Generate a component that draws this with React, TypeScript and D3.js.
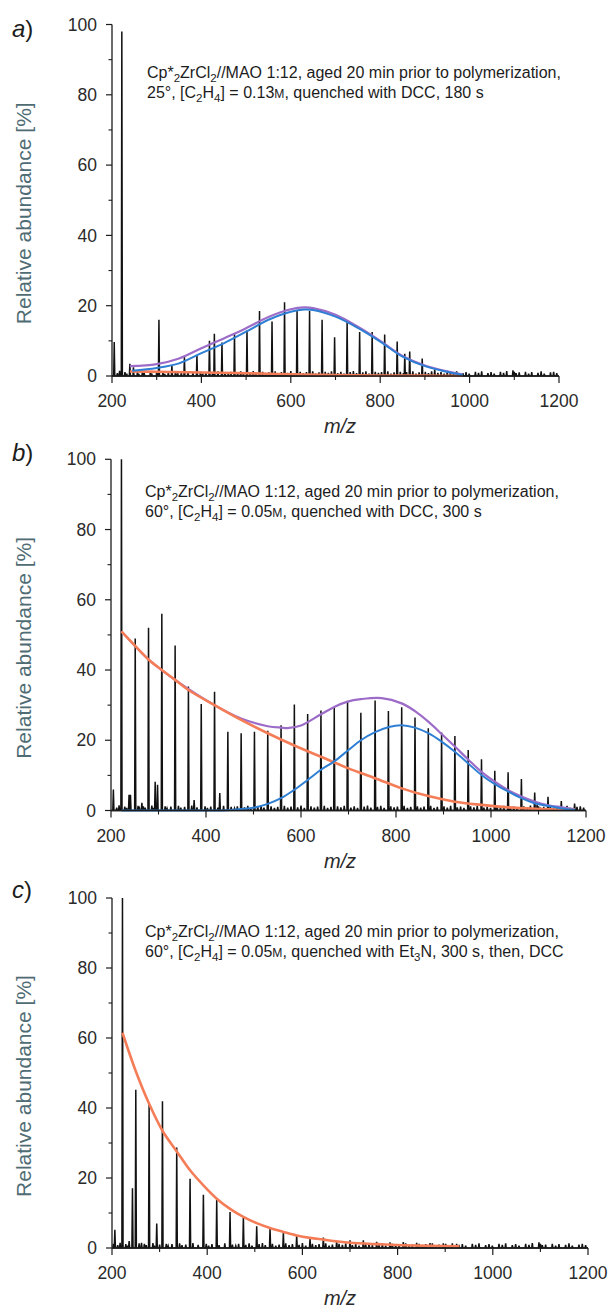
import React from 'react';
import * as d3 from 'd3';

type Pt = [number, number];
type Seg = [string, 'n' | 'sub' | 'sc'];

const xTickValues = [200, 400, 600, 800, 1000, 1200];
const xMinorTicks = [300, 500, 700, 900, 1100];
const yTickValues = [0, 20, 40, 60, 80, 100];
const yMinorTicks = [10, 30, 50, 70, 90];

// panel a peaks [m/z, relative abundance]
const peaksA: Pt[] = [
  [205, 9.7], [222, 98], [240, 3.5], [248, 2.5], [305, 16], [334, 3], [362, 5.5], [390, 6],
  [418, 10], [429, 12], [446, 9.5], [474, 12], [502, 13], [530, 18.5], [558, 15.5], [586, 21],
  [614, 18.5], [642, 18.5], [670, 16], [698, 11], [726, 15.5], [754, 12.5], [782, 12.5],
  [810, 11.8], [838, 9.8], [855, 6.3], [866, 7], [894, 5], [922, 1.8], [950, 1.2],
];
const peaksB: Pt[] = [
  [205, 6], [222, 100], [238, 4.5], [241, 4.5], [251, 49], [265, 2.2], [279, 52], [293, 8.2],
  [298, 7.3], [307, 56], [335, 47], [363, 35.3], [375, 3], [390, 30.3], [418, 33.8], [429, 5],
  [446, 22.4], [474, 22], [502, 22.4], [530, 22.7], [558, 24.3], [586, 30.2], [614, 27.5],
  [642, 28.5], [670, 29.2], [698, 31.2], [726, 27.8], [756, 31.3], [784, 28.3], [812, 29.4],
  [840, 26.5], [868, 23.4], [896, 22.2], [924, 21.2], [952, 17.2], [980, 14.6], [1008, 11.3],
  [1036, 10.9], [1064, 9], [1092, 5.1], [1120, 3.9], [1148, 2.7], [1176, 2],
];
const peaksC: Pt[] = [
  [206, 5.2], [222, 100], [236, 2], [243, 17.1], [250, 45.2], [262, 1.5], [278, 41.2], [294, 7],
  [306, 41.9], [336, 28.7], [364, 19.8], [392, 15.2], [420, 13.8], [448, 10.3], [476, 9],
  [504, 6.2], [532, 5.7], [560, 4.5], [588, 3.7], [616, 2.6], [644, 3], [672, 2], [700, 2.2],
  [728, 2.2], [756, 1.8], [784, 1.6], [812, 1.7], [840, 1.5], [868, 1.4], [896, 1.3], [924, 1.2],
];

// low-level baseline signal
const baselineNoise: Pt[] = [
  [203, 1.2], [212, 0.8], [217, 1.5], [229, 1.1], [233, 0.7], [257, 1.3], [260, 0.6], [268, 1.2],
  [272, 0.8], [286, 1.4], [289, 0.7], [300, 1.0], [314, 1.2], [318, 0.6], [326, 1.1], [342, 1.3],
  [347, 0.8], [355, 1.0], [370, 1.4], [381, 0.9], [398, 1.2], [403, 0.7], [410, 1.1], [425, 0.8],
  [437, 1.3], [453, 1.0], [460, 0.6], [466, 1.2], [481, 0.9], [488, 1.3], [494, 0.7], [509, 1.1],
  [516, 1.4], [522, 0.8], [537, 1.2], [544, 0.7], [551, 1.0], [565, 1.3], [572, 0.8], [579, 1.1],
  [593, 0.9], [600, 1.4], [607, 0.7], [621, 1.2], [628, 0.8], [635, 1.1], [649, 1.3], [656, 0.7],
  [663, 1.0], [677, 1.2], [684, 0.9], [691, 1.3], [705, 0.8], [712, 1.2], [719, 0.7], [733, 1.1],
  [740, 1.4], [747, 0.8], [761, 1.0], [768, 1.3], [775, 0.7], [789, 1.2], [796, 0.9], [803, 1.1],
  [817, 1.3], [824, 0.7], [831, 1.0], [845, 1.2], [852, 0.8], [859, 1.1], [873, 1.3], [880, 0.7],
  [887, 1.0], [901, 1.2], [908, 0.8], [915, 1.3], [929, 0.9], [936, 1.1], [943, 0.7], [957, 1.2],
  [964, 0.9], [971, 1.3], [985, 0.8], [992, 1.1], [999, 0.7], [1013, 1.2], [1020, 0.9], [1027, 1.3],
  [1041, 0.8], [1048, 1.1], [1055, 0.7], [1069, 1.2], [1076, 0.9], [1083, 1.4], [1097, 1.6],
  [1100, 1.2], [1104, 0.8], [1111, 1.0], [1125, 1.2], [1132, 0.7], [1139, 1.1], [1153, 0.9],
  [1160, 1.3], [1167, 0.7], [1181, 1.0], [1188, 1.2], [1195, 0.8],
];

// fitted distributions
const sumA: Pt[] = [
  [240, 2.8], [300, 3.4], [350, 5], [400, 7.9], [450, 10.7], [500, 13.6], [550, 16.8], [600, 19],
  [630, 19.5], [650, 19.3], [700, 17.4], [750, 14], [800, 10], [850, 5.7], [900, 3], [950, 1.3], [985, 0.4],
];
const highA: Pt[] = [
  [245, 1.5], [300, 2.3], [350, 3.6], [400, 6.5], [450, 9.3], [500, 12.6], [550, 16], [600, 18.3],
  [630, 18.9], [650, 18.8], [700, 16.9], [750, 13.7], [800, 9.8], [850, 5.5], [900, 2.8], [950, 1.2], [985, 0.3],
];
const lowA: Pt[] = [
  [240, 1.3], [300, 1.2], [400, 1], [500, 0.8], [600, 0.5], [700, 0.3], [800, 0.15], [900, 0.1], [985, 0.05],
];

const sumB: Pt[] = [
  [222, 51], [279, 43], [335, 37.2], [418, 30], [474, 26.2], [530, 24], [558, 23.6], [575, 23.5],
  [600, 24.2], [642, 27.4], [670, 29.5], [698, 31], [726, 31.7], [770, 32], [812, 30.5], [840, 28.3],
  [868, 25.3], [896, 21.8], [924, 18.2], [952, 14.5], [980, 11], [1008, 8.2], [1036, 5.8], [1064, 4],
  [1093, 2.5], [1121, 1.5], [1149, 0.9], [1177, 0.3],
];
const highB: Pt[] = [
  [222, 0], [400, 0], [446, 0.1], [474, 0.4], [502, 0.85], [530, 1.9], [558, 3.5], [586, 5.9],
  [614, 8.7], [642, 11.6], [670, 14], [698, 17], [726, 20], [756, 22.3], [785, 23.8], [812, 24.3],
  [840, 23.6], [868, 22], [896, 19.6], [924, 16.7], [952, 13.4], [980, 10.1], [1008, 7.5], [1036, 5.4],
  [1064, 3.5], [1093, 2], [1121, 1.3], [1149, 0.6], [1177, 0.2],
];
const lowB: Pt[] = [
  [222, 51], [250, 47], [279, 43], [307, 40], [335, 37.2], [363, 34.3], [418, 30], [474, 25.8],
  [530, 22], [586, 18.5], [642, 15.3], [700, 12], [756, 9.2], [812, 6.3], [868, 4.1], [924, 2.5],
  [980, 1.6], [1036, 0.9], [1093, 0.5], [1177, 0.2],
];

const lowC: Pt[] = [
  [222, 61.5], [250, 50.5], [278, 41.2], [306, 33.5], [336, 27.6], [364, 22.2], [392, 17.9],
  [420, 14.1], [448, 11.2], [476, 8.9], [504, 7.1], [532, 5.7], [560, 4.6], [588, 3.6], [616, 2.9],
  [644, 2.4], [672, 1.9], [700, 1.5], [756, 1.1], [812, 0.8], [870, 0.6], [930, 0.5],
];

const line1: Seg[] = [['Cp*', 'n'], ['2', 'sub'], ['ZrCl', 'n'], ['2', 'sub'], ['//MAO 1:12, aged 20 min prior to polymerization,', 'n']];
const line2A: Seg[] = [['25°, [C', 'n'], ['2', 'sub'], ['H', 'n'], ['4', 'sub'], ['] = 0.13', 'n'], ['M', 'sc'], [', quenched with DCC, 180 s', 'n']];
const line2B: Seg[] = [['60°, [C', 'n'], ['2', 'sub'], ['H', 'n'], ['4', 'sub'], ['] = 0.05', 'n'], ['M', 'sc'], [', quenched with DCC, 300 s', 'n']];
const line2C: Seg[] = [['60°, [C', 'n'], ['2', 'sub'], ['H', 'n'], ['4', 'sub'], ['] = 0.05', 'n'], ['M', 'sc'], [', quenched with Et', 'n'], ['3', 'sub'], ['N, 300 s, then, DCC', 'n']];

const COLORS = { sum: '#9d6cc8', high: '#2e7fd4', low: '#f47d58', ink: '#1c1c1c', ylab: '#4f6c74' };
const FONT = '"Liberation Sans", Arial, Helvetica, sans-serif';

interface PanelCfg {
  letter: string;
  peaks: Pt[];
  sum?: Pt[];
  high?: Pt[];
  low: Pt[];
  l2: Seg[];
  x0: number; x1: number; yTop: number; yBot: number;
  textX: number; textY: number; letterY: number;
}

const panels: PanelCfg[] = [
  { letter: 'a', peaks: peaksA, sum: sumA, high: highA, low: lowA, l2: line2A, x0: 112, x1: 559, yTop: 24.5, yBot: 376, textX: 147, textY: 78, letterY: 37 },
  { letter: 'b', peaks: peaksB, sum: sumB, high: highB, low: lowB, l2: line2B, x0: 111, x1: 586, yTop: 459.3, yBot: 810.5, textX: 145, textY: 497, letterY: 461 },
  { letter: 'c', peaks: peaksC, low: lowC, l2: line2C, x0: 112, x1: 588, yTop: 898, yBot: 1248, textX: 145, textY: 937, letterY: 898 },
];

function spectrumPoints(peaks: Pt[], noise: Pt[]): Pt[] {
  const all: Pt[] = [...peaks];
  noise.forEach((n) => {
    if (!peaks.some((p) => Math.abs(p[0] - n[0]) < 3)) all.push(n);
  });
  all.sort((a, b) => a[0] - b[0]);
  const pts: Pt[] = [[200, 0]];
  all.forEach(([m, h]) => {
    pts.push([m - 1.2, 0], [m, h], [m + 1.2, 0]);
  });
  pts.push([1200, 0]);
  return pts;
}

function RichText({ segs, x, y, size }: { segs: Seg[]; x: number; y: number; size: number }) {
  let shifted = 0;
  const sub = size * 0.28;
  const parts = segs.map((s, i) => {
    let dy = 0;
    let fs = size;
    if (s[1] === 'sub') {
      dy = sub - shifted;
      shifted = sub;
      fs = size * 0.72;
    } else {
      dy = -shifted;
      shifted = 0;
      if (s[1] === 'sc') fs = size * 0.76;
    }
    return (
      <tspan key={i} dy={dy} fontSize={fs}>
        {s[0]}
      </tspan>
    );
  });
  return (
    <text x={x} y={y} fontFamily={FONT} fontSize={size} fill={COLORS.ink}>
      {parts}
    </text>
  );
}

function Panel({ cfg }: { cfg: PanelCfg }) {
  const x = d3.scaleLinear().domain([200, 1200]).range([cfg.x0, cfg.x1]);
  const y = d3.scaleLinear().domain([0, 100]).range([cfg.yBot, cfg.yTop]);
  const specLine = d3.line<Pt>().x((d) => x(d[0])).y((d) => y(d[1]));
  const fitLine = d3
    .line<Pt>()
    .x((d) => x(d[0]))
    .y((d) => y(d[1]))
    .curve(d3.curveCatmullRom.alpha(0.5));
  const spec = spectrumPoints(cfg.peaks, baselineNoise);
  const x0 = x(200);
  const y0 = y(0);
  const midY = (cfg.yTop + cfg.yBot) / 2 + 13;
  const midX = 340;
  return (
    <g>
      <text x={12} y={cfg.letterY} fontFamily={FONT} fontSize={24} fill={COLORS.ink}>
        <tspan fontStyle="italic">{cfg.letter}</tspan>
        <tspan>)</tspan>
      </text>
      <text
        transform={`translate(31,${midY}) rotate(-90)`}
        textAnchor="middle"
        fontFamily={FONT}
        fontSize={21}
        fill={COLORS.ylab}
      >
        Relative abundance [%]
      </text>
      <RichText segs={line1} x={cfg.textX} y={cfg.textY} size={16} />
      <RichText segs={cfg.l2} x={cfg.textX} y={cfg.textY + 19.5} size={16} />

      {/* spectrum */}
      <path d={specLine(spec) || ''} fill="none" stroke="#111" strokeWidth={1.5} strokeLinejoin="miter" />

      {/* fits */}
      {cfg.sum && <path d={fitLine(cfg.sum) || ''} fill="none" stroke={COLORS.sum} strokeWidth={2.2} />}
      <path d={fitLine(cfg.low) || ''} fill="none" stroke={COLORS.low} strokeWidth={2.6} />
      {cfg.high && <path d={fitLine(cfg.high) || ''} fill="none" stroke={COLORS.high} strokeWidth={2} />}

      {/* axes */}
      <line x1={x0} x2={x0} y1={y(100)} y2={y0} stroke={COLORS.ink} strokeWidth={1.3} />
      <line x1={x0} x2={x(1200)} y1={y0} y2={y0} stroke={COLORS.ink} strokeWidth={1.3} />
      {yTickValues.map((t) => (
        <g key={'yt' + t}>
          <line x1={x0 - 6} x2={x0} y1={y(t)} y2={y(t)} stroke={COLORS.ink} strokeWidth={1.2} />
          <text
            x={x0 - 15}
            y={y(t)}
            dy="0.35em"
            textAnchor="end"
            fontFamily={FONT}
            fontSize={17.5}
            fill="#2a2a2a"
          >
            {t}
          </text>
        </g>
      ))}
      {yMinorTicks.map((t) => (
        <line key={'ym' + t} x1={x0 - 3.5} x2={x0} y1={y(t)} y2={y(t)} stroke={COLORS.ink} strokeWidth={1.1} />
      ))}
      {xTickValues.map((t) => (
        <g key={'xt' + t}>
          <line x1={x(t)} x2={x(t)} y1={y0} y2={y0 + 7} stroke={COLORS.ink} strokeWidth={1.2} />
          <text x={x(t)} y={y0 + 31} textAnchor="middle" fontFamily={FONT} fontSize={17.5} fill="#2a2a2a">
            {t}
          </text>
        </g>
      ))}
      {xMinorTicks.map((t) => (
        <line key={'xm' + t} x1={x(t)} x2={x(t)} y1={y0} y2={y0 + 4} stroke={COLORS.ink} strokeWidth={1.1} />
      ))}
      <text x={midX} y={y0 + 57} textAnchor="middle" fontFamily={FONT} fontSize={20} fontStyle="italic" fill="#2a2a2a">
        m/z
      </text>
    </g>
  );
}

export default function App() {
  return (
    <svg
      width={611}
      height={1312}
      viewBox="0 0 611 1312"
      style={{ position: 'absolute', left: 0, top: 0, display: 'block', background: '#fff' }}
    >
      <rect x={0} y={0} width={611} height={1312} fill="#fff" />
      {panels.map((p) => (
        <Panel key={p.letter} cfg={p} />
      ))}
    </svg>
  );
}
